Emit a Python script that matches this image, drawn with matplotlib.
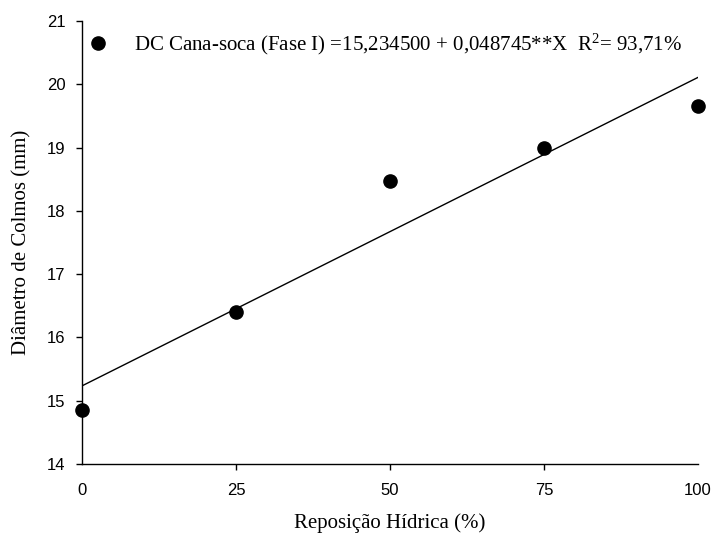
import matplotlib
matplotlib.use("Agg")
import matplotlib.pyplot as plt
import numpy as np

# Water replacement levels (%) and measured stalk diameter (mm)
reposicao = [0, 25, 50, 75, 100]
diametro = [14.85, 16.40, 18.47, 19.00, 19.65]

# Fitted linear regression
intercepto = 15.234500
inclinacao = 0.048745

x_ticks = [0, 25, 50, 75, 100]
y_ticks = [14, 15, 16, 17, 18, 19, 20, 21]

serif = "Liberation Serif"
sans = "Liberation Sans"
plt.rcParams["mathtext.fontset"] = "custom"
plt.rcParams["mathtext.rm"] = serif
plt.rcParams["mathtext.it"] = serif + ":italic"

fig = plt.figure(figsize=(7.15, 5.35), dpi=100)
ax = fig.add_axes([82 / 715, 1 - 464 / 535, 616 / 715, 443 / 535])

xs = np.linspace(0, 100, 2)
ax.plot(xs, intercepto + inclinacao * xs, color="black", lw=1.0, zorder=2)
ax.plot(reposicao, diametro, "o", color="black", ms=9.5, ls="none", zorder=3,
        clip_on=False,
        label=r"DC Cana-soca (Fase I) =15,234500 + 0,048745**X  R$^{\mathregular{2}}$= 93,71%")

ax.set_xlim(0, 100)
ax.set_ylim(14, 21)
ax.set_xticks(x_ticks)
ax.set_yticks(y_ticks)
ax.set_xticklabels([str(v) for v in x_ticks], fontfamily=sans, fontsize=12)
ax.set_yticklabels([str(v) for v in y_ticks], fontfamily=sans, fontsize=12)
ax.tick_params(axis="x", direction="out", length=4, width=1, pad=10)
ax.tick_params(axis="y", direction="out", length=4, width=1, pad=8)
xt = ax.xaxis.get_major_ticks()
xt[0].tick1line.set_visible(False)
xt[-1].tick1line.set_visible(False)

for s in ("top", "right"):
    ax.spines[s].set_visible(False)
for s in ("left", "bottom"):
    ax.spines[s].set_linewidth(1.0)

ax.set_xlabel("Reposição Hídrica (%)", fontfamily=serif, fontsize=15, labelpad=11)
ax.set_ylabel("Diâmetro de Colmos (mm)", fontfamily=serif, fontsize=15, labelpad=11)

leg = ax.legend(loc="center left", bbox_to_anchor=(0.0158, 0.948), frameon=False,
                prop={"family": serif, "size": 15}, handlelength=0.6,
                handletextpad=1.43, borderaxespad=0, borderpad=0)

fig.savefig("out.png", dpi=100)
